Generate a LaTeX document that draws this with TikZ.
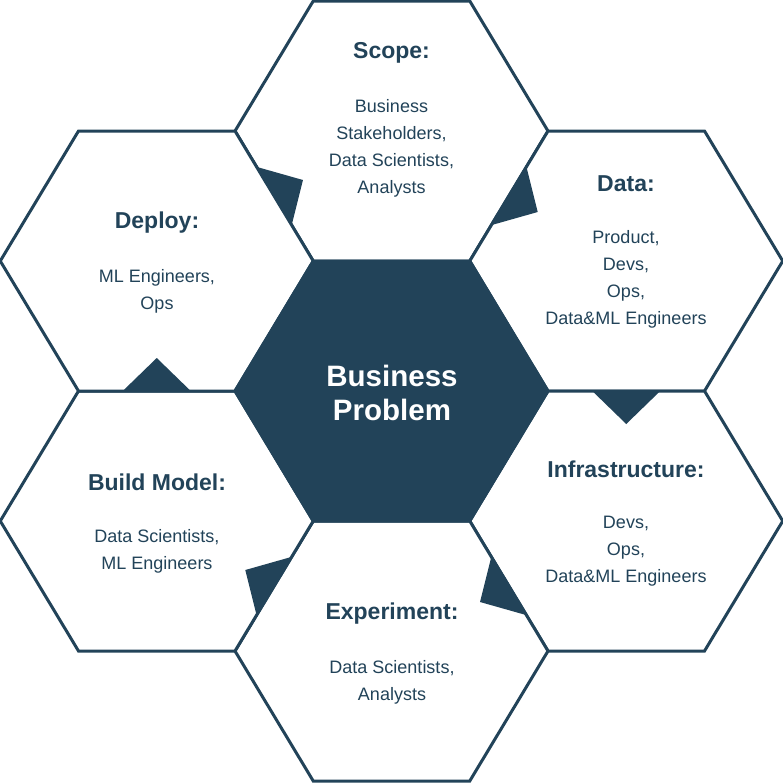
\documentclass[tikz,border=0pt]{standalone}
\usepackage{fontspec}
\setmainfont{Liberation Sans}
\usetikzlibrary{calc}
\definecolor{slate}{RGB}{34,67,89}
\begin{document}
\begin{tikzpicture}[x=0.5pt,y=-0.5pt,
  cell/.style={draw=slate, line width=1.5pt, line join=miter, fill=white},
  hub/.style={draw=slate, line width=1.5pt, line join=miter, fill=slate},
  flow/.style={fill=slate, draw=none},
  heading/.style={text=slate, font=\fontsize{11.5}{13}\selectfont\bfseries, inner sep=0pt},
  roles/.style={text=slate, font=\fontsize{9}{13.5}\selectfont, align=center, inner sep=0pt},
  title/.style={text=white, font=\fontsize{14.75}{17}\selectfont\bfseries, align=center, inner sep=0pt}]
\useasboundingbox (0,0) rectangle (783,783);

% centres and corners of the seven hexagons (corner 1 = right, then clockwise on screen)
\foreach \n/\cx/\cy in {hub/391.5/391, scope/391.5/131, data/626.25/261,
    infra/626.25/521, exper/391.5/651, build/156.75/521, deploy/156.75/261}{
  \coordinate (\n) at (\cx,\cy);
  \coordinate (\n-1) at (\cx+156.5,\cy);
  \coordinate (\n-2) at (\cx+78.25,\cy+130);
  \coordinate (\n-3) at (\cx-78.25,\cy+130);
  \coordinate (\n-4) at (\cx-156.5,\cy);
  \coordinate (\n-5) at (\cx-78.25,\cy-130);
  \coordinate (\n-6) at (\cx+78.25,\cy-130);
}

% outer ring of stages
\foreach \n in {scope,data,infra,exper,build,deploy}
  \draw[cell] (\n-1) -- (\n-2) -- (\n-3) -- (\n-4) -- (\n-5) -- (\n-6) -- cycle;

% central hexagon
\draw[hub] (hub-1) -- (hub-2) -- (hub-3) -- (hub-4) -- (hub-5) -- (hub-6) -- cycle;

% flow markers on the shared edges, pointing into the next stage
\foreach \a/\b/\tgt in {deploy-6/deploy-1/scope, scope-1/scope-2/data,
    data-2/data-3/infra, infra-3/infra-4/exper, exper-4/exper-5/build,
    build-5/build-6/deploy}{
  \coordinate (mid) at ($(\a)!0.5!(\b)$);
  \fill[flow] ($(mid)!17pt!(\a)$) -- ($(mid)!16.5pt!(\tgt)$) -- ($(mid)!17pt!(\b)$) -- cycle;
}

% labels
\node[title] (hub-t) at (392,392.5) {Business\\Problem};

\node[heading] (scope-h) at (391.5,53) {Scope:};
\node[roles] (scope-r) at (391.5,148) {Business\\Stakeholders,\\Data Scientists,\\Analysts};

\node[heading] (data-h) at (626,183.5) {Data:};
\node[roles] (data-r) at (626,279) {Product,\\Devs,\\Ops,\\Data\&ML Engineers};

\node[heading] (infra-h) at (626,469.5) {Infrastructure:};
\node[roles] (infra-r) at (626,551) {Devs,\\Ops,\\Data\&ML Engineers};

\node[heading] (exper-h) at (392,613.5) {Experiment:};
\node[roles] (exper-r) at (392,682) {Data Scientists,\\Analysts};

\node[heading] (build-h) at (157,482.5) {Build Model:};
\node[roles] (build-r) at (157,551) {Data Scientists,\\ML Engineers};

\node[heading] (deploy-h) at (157,222.5) {Deploy:};
\node[roles] (deploy-r) at (157,291) {ML Engineers,\\Ops};
\end{tikzpicture}
\end{document}
